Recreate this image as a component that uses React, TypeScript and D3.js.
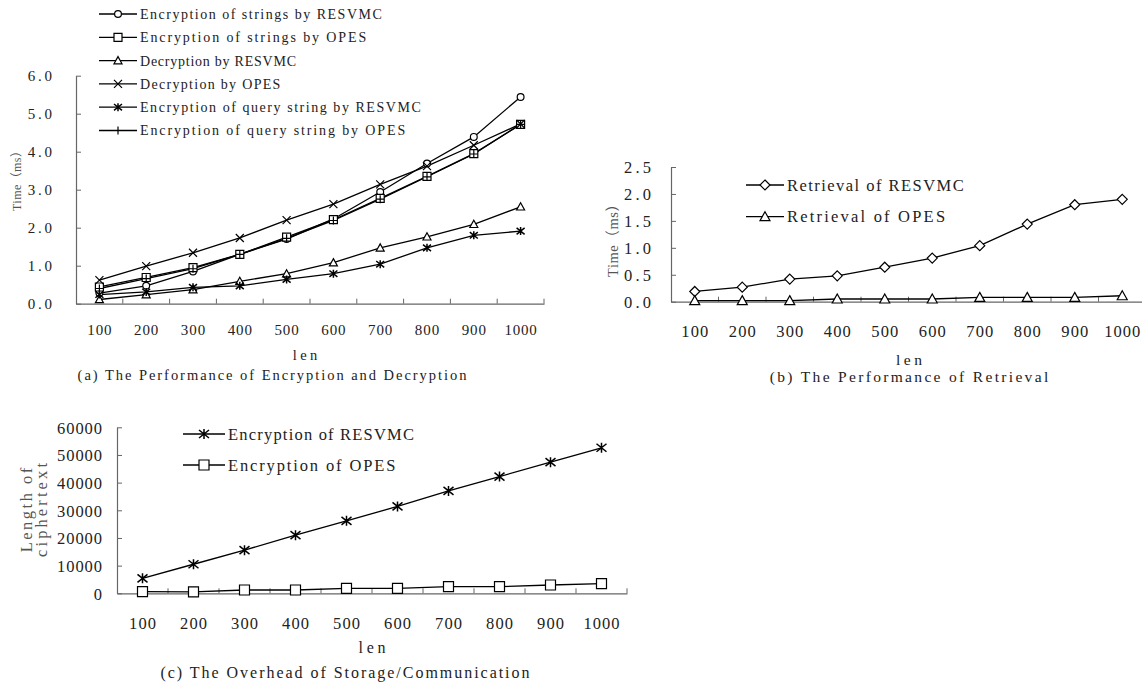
import * as d3 from "d3";
import { useEffect, useRef } from "react";

const lens = ["100", "200", "300", "400", "500", "600", "700", "800", "900", "1000"];

// (a) encryption / decryption time, ms
const encStrRESVMC = [0.28, 0.47, 0.85, 1.3, 1.7, 2.23, 2.94, 3.69, 4.39, 5.44];
const encStrOPES = [0.44, 0.69, 0.95, 1.3, 1.75, 2.21, 2.77, 3.35, 3.95, 4.72];
const decRESVMC = [0.11, 0.24, 0.37, 0.59, 0.79, 1.08, 1.47, 1.76, 2.09, 2.55];
const decOPES = [0.62, 0.99, 1.34, 1.73, 2.2, 2.62, 3.14, 3.62, 4.17, 4.73];
const queryRESVMC = [0.24, 0.31, 0.43, 0.47, 0.64, 0.79, 1.04, 1.47, 1.8, 1.91];
const queryOPES = [0.4, 0.66, 0.92, 1.3, 1.72, 2.19, 2.75, 3.34, 3.94, 4.72];
const yTicksA = [0, 1, 2, 3, 4, 5, 6];

// (b) retrieval time, ms
const retrRESVMC = [0.19, 0.27, 0.42, 0.48, 0.64, 0.81, 1.04, 1.44, 1.8, 1.9];
const retrOPES = [0.02, 0.02, 0.02, 0.05, 0.05, 0.05, 0.08, 0.08, 0.08, 0.11];
const yTicksB = [0, 0.5, 1, 1.5, 2, 2.5];

// (c) ciphertext length
const lenRESVMC = [5400, 10500, 15600, 21000, 26200, 31400, 37000, 42200, 47400, 52600];
const lenOPES = [600, 500, 1200, 1200, 1800, 1800, 2400, 2400, 3000, 3500];
const yTicksC = [0, 10000, 20000, 30000, 40000, 50000, 60000];

const FONT = "'Liberation Serif', 'Noto Sans CJK SC', serif";

// the original uses a fixed pitch song-style face: stretch the serif text to that pitch
function cells(t) {
  let n = 0;
  for (const ch of t) n += ch.charCodeAt(0) > 0xff ? 2 : 1;
  return n;
}
function pitch(sel, cw) {
  sel.each(function () {
    const t = d3.select(this).text();
    d3.select(this).attr("textLength", cells(t) * cw).attr("lengthAdjust", "spacing");
  });
}

function marker(g, kind, cx, cy, s) {
  const h = s / 2;
  if (kind === "circle") {
    g.append("circle").attr("cx", cx).attr("cy", cy).attr("r", h * 0.85)
      .attr("fill", "white").attr("stroke", "black").attr("stroke-width", 1.2);
    return;
  }
  const p = g.append("path")
    .attr("fill", "white")
    .attr("stroke", "black")
    .attr("stroke-width", 1.2);
  if (kind === "square") {
    p.attr("d", `M${cx - h},${cy - h}h${s}v${s}h${-s}Z`);
  } else if (kind === "triangle") {
    p.attr("d", `M${cx},${cy - h}L${cx + h},${cy + h * 0.8}L${cx - h},${cy + h * 0.8}Z`);
  } else if (kind === "diamond") {
    p.attr("d", `M${cx},${cy - h}L${cx + h},${cy}L${cx},${cy + h}L${cx - h},${cy}Z`);
  } else if (kind === "x") {
    p.attr("fill", "none").attr("d", `M${cx - h},${cy - h}L${cx + h},${cy + h}M${cx + h},${cy - h}L${cx - h},${cy + h}`);
  } else if (kind === "star") {
    p.attr("fill", "none").attr("stroke-width", 1.5)
      .attr("d", `M${cx - h},${cy - h * 0.8}L${cx + h},${cy + h * 0.8}M${cx + h},${cy - h * 0.8}L${cx - h},${cy + h * 0.8}M${cx},${cy - h}V${cy + h}`);
  } else if (kind === "plus") {
    p.attr("fill", "none").attr("d", `M${cx - h},${cy}H${cx + h}M${cx},${cy - h}V${cy + h}`);
  }
}

function drawPanel(svg, cfg) {
  const x = d3.scaleBand().domain(lens).range([cfg.left, cfg.right]);
  const y = d3.scaleLinear().domain([0, cfg.yMax]).range([cfg.bottom, cfg.top]);
  const g = svg.append("g");

  // y axis, ticks inside
  const ya = g.append("g")
    .attr("transform", `translate(${cfg.left},0)`)
    .call(d3.axisLeft(y).tickValues(cfg.yTicks).tickSize(-5).tickSizeOuter(0)
      .tickPadding(cfg.yPad).tickFormat(cfg.fmt));
  ya.select(".domain").attr("stroke", "#666").attr("stroke-width", 1.2);
  ya.selectAll(".tick line").attr("stroke", "#666");
  ya.selectAll("text").attr("font-family", FONT).attr("font-size", cfg.tickFont)
    .attr("fill", "#222").attr("dy", "0.35em").call(pitch, cfg.tickCw);

  // x axis, ticks at the band edges pointing up
  const xa = g.append("g")
    .attr("transform", `translate(0,${cfg.bottom})`)
    .call(d3.axisBottom(x).tickSize(0).tickPadding(cfg.xPad));
  xa.select(".domain").attr("stroke", "#666").attr("stroke-width", 1.2);
  xa.selectAll("text").attr("font-family", FONT).attr("font-size", cfg.tickFont)
    .attr("fill", "#222").call(pitch, cfg.tickCw);
  const edges = lens.map((d) => x(d)).concat([cfg.right]);
  g.selectAll(null).data(edges.slice(1)).enter().append("line")
    .attr("x1", (d) => d).attr("x2", (d) => d)
    .attr("y1", cfg.bottom).attr("y2", cfg.bottom - 5)
    .attr("stroke", "#666");

  const cx = (d, i) => x(lens[i]) + x.bandwidth() / 2;
  const line = d3.line().x(cx).y((d) => y(d));
  cfg.series.forEach((s) => {
    g.append("path").datum(s.values).attr("d", line)
      .attr("fill", "none").attr("stroke", "black").attr("stroke-width", 1.3);
  });
  cfg.series.forEach((s) => {
    s.values.forEach((v, i) => marker(g, s.kind, cx(v, i), y(v), cfg.mSize));
  });

  // legend
  cfg.series.forEach((s, i) => {
    const ly = cfg.legY + i * cfg.legStep;
    g.append("line").attr("x1", cfg.legX).attr("x2", cfg.legX + cfg.legLen)
      .attr("y1", ly).attr("y2", ly).attr("stroke", "black").attr("stroke-width", 1.3);
    marker(g, s.kind, cfg.legX + cfg.legLen / 2, ly, cfg.legM);
    g.append("text").attr("x", cfg.legX + cfg.legLen + 3).attr("y", ly).attr("dy", "0.35em")
      .attr("font-family", FONT).attr("font-size", cfg.legFont).attr("fill", "#222")
      .text(s.name).call(pitch, cfg.legCw);
  });

  // axis titles and caption
  g.append("text").attr("x", cfg.lenX).attr("y", cfg.lenY).attr("dy", "0.35em")
    .attr("text-anchor", "middle").attr("font-family", FONT).attr("font-size", cfg.capFont)
    .attr("fill", "#222").text("len").call(pitch, cfg.capCw);
  g.append("text").attr("x", cfg.capX).attr("y", cfg.capY).attr("dy", "0.35em")
    .attr("text-anchor", "middle").attr("font-family", FONT).attr("font-size", cfg.capFont)
    .attr("fill", "#222").text(cfg.caption).call(pitch, cfg.capCw);
  cfg.yTitle.forEach((t, i) => {
    g.append("text")
      .attr("transform", `translate(${cfg.yTitleX + i * cfg.yTitleStep},${cfg.yTitleY}) rotate(-90)`)
      .attr("dy", "0.35em").attr("text-anchor", "middle")
      .attr("font-family", FONT).attr("font-size", cfg.yTitleFont).attr("fill", "#555")
      .text(t).call(pitch, cfg.yTitleCw);
  });
}

const App = () => {
  const ref = useRef(null);

  useEffect(() => {
    const svg = d3.select(ref.current);
    svg.selectAll("*").remove();

    drawPanel(svg, {
      left: 76, right: 544, top: 75.7, bottom: 303.7, yMax: 6, yTicks: yTicksA,
      fmt: d3.format(".1f"), yPad: 24, xPad: 21, tickFont: 15, tickCw: 8.1, mSize: 8,
      series: [
        { name: "Encryption of strings by RESVMC", kind: "circle", values: encStrRESVMC },
        { name: "Encryption of strings by OPES", kind: "square", values: encStrOPES },
        { name: "Decryption by RESVMC", kind: "triangle", values: decRESVMC },
        { name: "Decryption by OPES", kind: "x", values: decOPES },
        { name: "Encryption of query string by RESVMC", kind: "star", values: queryRESVMC },
        { name: "Encryption of query string by OPES", kind: "plus", values: queryOPES },
      ],
      legX: 99, legLen: 38, legY: 14, legStep: 23.3, legM: 8, legFont: 14, legCw: 7.8,
      lenX: 305, lenY: 355, capX: 272, capY: 375, capFont: 14.5, capCw: 8.1,
      caption: "(a) The Performance of Encryption and Decryption",
      yTitle: ["Time（ms）"], yTitleX: 17, yTitleY: 178, yTitleStep: 0, yTitleFont: 12, yTitleCw: 6.6,
    });

    drawPanel(svg, {
      left: 671, right: 1146, top: 167, bottom: 301.7, yMax: 2.5, yTicks: yTicksB,
      fmt: d3.format(".1f"), yPad: 20, xPad: 24, tickFont: 16.5, tickCw: 9,
      mSize: 10,
      series: [
        { name: "Retrieval of RESVMC", kind: "diamond", values: retrRESVMC },
        { name: "Retrieval of OPES", kind: "triangle", values: retrOPES },
      ],
      legX: 746, legLen: 38, legY: 185, legStep: 31.7, legM: 10, legFont: 16.5, legCw: 9.3,
      lenX: 909, lenY: 360, capX: 909, capY: 377, capFont: 15.5, capCw: 8.7,
      caption: "(b) The Performance of Retrieval",
      yTitle: ["Time（ms）"], yTitleX: 613, yTitleY: 237, yTitleStep: 0, yTitleFont: 14.5, yTitleCw: 8,
    });

    drawPanel(svg, {
      left: 117, right: 627, top: 427.3, bottom: 593.3, yMax: 60000, yTicks: yTicksC,
      fmt: d3.format("d"), yPad: 15, xPad: 24, tickFont: 16.5, tickCw: 9, mSize: 10,
      series: [
        { name: "Encryption of RESVMC", kind: "star", values: lenRESVMC },
        { name: "Encryption of OPES", kind: "square", values: lenOPES },
      ],
      legX: 183, legLen: 42, legY: 434, legStep: 31, legM: 10, legFont: 16.5, legCw: 9.3,
      lenX: 372, lenY: 647, capX: 345, capY: 672, capFont: 16, capCw: 9,
      caption: "(c) The Overhead of Storage/Communication",
      yTitle: ["Length of", "ciphertext"], yTitleX: 26.7, yTitleY: 510, yTitleStep: 15, yTitleFont: 16.5, yTitleCw: 9.4,
    });
  }, []);

  return (
    <div style={{ position: "absolute", left: 0, top: 0 }}>
      <svg ref={ref} width={1142} height={683} style={{ display: "block", background: "white" }} />
    </div>
  );
};

export default App;
